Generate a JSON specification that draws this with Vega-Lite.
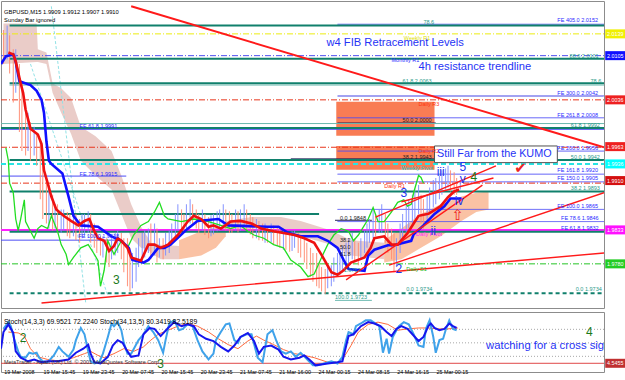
{
"$schema":"https://vega.github.io/schema/vega-lite/v6.json",
"padding":0,
"background":"#ffffff",
"spacing":2,
"config":{"view":{"stroke":"#8c8c8c"},"font":"Liberation Sans","axis":{"labelFont":"Liberation Sans","labelFontSize":5.4,"labelColor":"#000000","tickColor":"#000000","tickSize":3,"domainColor":"#8c8c8c","grid":false}},
"datasets":{
"zones":[{"t1":273,"t2":353,"p1":2.0033,"p2":1.9980},{"t1":273,"t2":353,"p1":1.9964,"p2":1.9927}],
"cloud":[
{"g":"L","k":"bear","t":2,"a":2.0155,"b":2.0092},{"g":"L","k":"bear","t":29,"a":2.0155,"b":2.0095},{"g":"L","k":"bear","t":30,"a":2.0115,"b":2.0095},{"g":"L","k":"bear","t":37,"a":2.0110,"b":2.0092},{"g":"L","k":"bear","t":42,"a":2.0062,"b":2.0047},{"g":"L","k":"bear","t":49,"a":2.0054,"b":2.0016},{"g":"L","k":"bear","t":57,"a":2.0039,"b":1.9983},{"g":"L","k":"bear","t":65,"a":1.9994,"b":1.9941},{"g":"L","k":"bear","t":77,"a":1.9979,"b":1.9918},{"g":"L","k":"bear","t":90,"a":1.9956,"b":1.9896},{"g":"L","k":"bear","t":98,"a":1.9918,"b":1.9858},{"g":"L","k":"bear","t":106,"a":1.9873,"b":1.9820},{"g":"L","k":"bear","t":114,"a":1.9838,"b":1.9805},{"g":"L","k":"bear","t":120,"a":1.9820,"b":1.9802},{"g":"L","k":"bear","t":122,"a":1.9813,"b":1.9797},{"g":"L","k":"bear","t":130,"a":1.9810,"b":1.9787},{"g":"L","k":"bear","t":145,"a":1.9808,"b":1.9787},
{"g":"M2","k":"bull","t":145,"a":1.9817,"b":1.9787},{"g":"M2","k":"bull","t":163,"a":1.9831,"b":1.9793},{"g":"M2","k":"bull","t":175,"a":1.9838,"b":1.9805},{"g":"M2","k":"bull","t":183,"a":1.9838,"b":1.9823},
{"g":"M3","k":"bear","t":183,"a":1.9847,"b":1.9828},{"g":"M3","k":"bear","t":204,"a":1.9853,"b":1.9835},{"g":"M3","k":"bear","t":228,"a":1.9853,"b":1.9835},{"g":"M3","k":"bear","t":244,"a":1.9847,"b":1.9823},{"g":"M3","k":"bear","t":269,"a":1.9832,"b":1.9810},{"g":"M3","k":"bear","t":285,"a":1.9817,"b":1.9793},{"g":"M3","k":"bear","t":312,"a":1.9813,"b":1.9787},
{"g":"R","k":"bull","t":312,"a":1.9817,"b":1.9782},{"g":"R","k":"bull","t":326,"a":1.9835,"b":1.9787},{"g":"R","k":"bull","t":342,"a":1.9858,"b":1.9805},{"g":"R","k":"bull","t":358,"a":1.9873,"b":1.9823},{"g":"R","k":"bull","t":375,"a":1.9885,"b":1.9847},{"g":"R","k":"bull","t":387,"a":1.9891,"b":1.9861},{"g":"R","k":"bull","t":397,"a":1.9893,"b":1.9865}],
"diag":[{"t1":41,"p1":2.0182,"t2":69,"p2":1.9719},{"t1":24,"p1":2.0092,"t2":87,"p2":1.9730}],
"hl":[
{"p":2.0152,"t1":7,"t2":491,"k":"fib"},{"p":2.0154,"t1":274,"t2":491,"k":"fe"},{"p":2.0139,"t1":0,"t2":491,"k":"wR"},{"p":2.0105,"t1":0,"t2":491,"k":"mR"},{"p":2.0100,"t1":7,"t2":491,"k":"fib"},{"p":2.0062,"t1":7,"t2":491,"k":"fib"},{"p":2.0059,"t1":7,"t2":491,"k":"fibl"},{"p":2.0042,"t1":274,"t2":491,"k":"feL"},{"p":2.0036,"t1":0,"t2":491,"k":"R"},{"p":2.0008,"t1":274,"t2":491,"k":"fe"},{"p":2.0000,"t1":274,"t2":354,"k":"nav"},{"p":1.9999,"t1":0,"t2":491,"k":"fibl"},{"p":1.9992,"t1":0,"t2":491,"k":"fib"},{"p":1.9990,"t1":0,"t2":491,"k":"fe"},{"p":1.9962,"t1":0,"t2":491,"k":"R"},{"p":1.9956,"t1":274,"t2":491,"k":"fe"},{"p":1.9944,"t1":236,"t2":354,"k":"nav"},{"p":1.9942,"t1":7,"t2":491,"k":"fib"},{"p":1.9936,"t1":0,"t2":491,"k":"wP"},{"p":1.9920,"t1":274,"t2":491,"k":"fe"},{"p":1.9917,"t1":0,"t2":102,"k":"fe"},{"p":1.9908,"t1":274,"t2":491,"k":"fe"},{"p":1.9906,"t1":0,"t2":491,"k":"R"},{"p":1.9893,"t1":7,"t2":491,"k":"fib"},{"p":1.9865,"t1":274,"t2":491,"k":"fe"},{"p":1.9858,"t1":35,"t2":259,"k":"fib"},{"p":1.9848,"t1":272,"t2":302,"k":"nav"},{"p":1.9846,"t1":274,"t2":491,"k":"fe"},{"p":1.9833,"t1":0,"t2":491,"k":"dP"},{"p":1.9832,"t1":274,"t2":491,"k":"fe"},{"p":1.9830,"t1":7,"t2":491,"k":"fib"},{"p":1.9817,"t1":0,"t2":98,"k":"fe"},{"p":1.9780,"t1":0,"t2":491,"k":"S1"},{"p":1.9734,"t1":7,"t2":491,"k":"fibd"},{"p":1.9723,"t1":272,"t2":302,"k":"fibl"}],
"bars":[
{"t":2,"hi":2.0145,"lo":2.0092,"c":"d"},{"t":5,"hi":2.0152,"lo":2.0099,"c":"u"},{"t":7,"hi":2.0137,"lo":2.0077,"c":"d"},{"t":10,"hi":2.0115,"lo":2.0032,"c":"d"},{"t":12,"hi":2.0115,"lo":2.0047,"c":"u"},{"t":15,"hi":2.0092,"lo":1.9986,"c":"d"},{"t":17,"hi":2.0062,"lo":1.9956,"c":"d"},{"t":20,"hi":2.0032,"lo":1.9949,"c":"d"},{"t":22,"hi":2.0016,"lo":1.9956,"c":"u"},{"t":24,"hi":2.0001,"lo":1.9941,"c":"d"},{"t":27,"hi":1.9994,"lo":1.9949,"c":"u"},{"t":29,"hi":1.9986,"lo":1.9933,"c":"d"},{"t":32,"hi":1.9971,"lo":1.9881,"c":"d"},{"t":34,"hi":1.9941,"lo":1.9850,"c":"d"},{"t":37,"hi":1.9911,"lo":1.9843,"c":"d"},{"t":39,"hi":1.9903,"lo":1.9835,"c":"u"},{"t":42,"hi":1.9888,"lo":1.9832,"c":"d"},{"t":44,"hi":1.9873,"lo":1.9835,"c":"u"},{"t":46,"hi":1.9873,"lo":1.9828,"c":"d"},{"t":49,"hi":1.9865,"lo":1.9828,"c":"u"},{"t":51,"hi":1.9865,"lo":1.9832,"c":"u"},{"t":54,"hi":1.9861,"lo":1.9823,"c":"d"},{"t":56,"hi":1.9858,"lo":1.9820,"c":"d"},{"t":59,"hi":1.9865,"lo":1.9823,"c":"u"},{"t":61,"hi":1.9858,"lo":1.9817,"c":"d"},{"t":64,"hi":1.9850,"lo":1.9813,"c":"d"},{"t":66,"hi":1.9858,"lo":1.9820,"c":"u"},{"t":68,"hi":1.9858,"lo":1.9823,"c":"u"},{"t":71,"hi":1.9862,"lo":1.9828,"c":"u"},{"t":73,"hi":1.9858,"lo":1.9813,"c":"d"},{"t":76,"hi":1.9843,"lo":1.9805,"c":"d"},{"t":78,"hi":1.9828,"lo":1.9797,"c":"d"},{"t":81,"hi":1.9823,"lo":1.9793,"c":"d"},{"t":83,"hi":1.9823,"lo":1.9790,"c":"u"},{"t":86,"hi":1.9820,"lo":1.9782,"c":"d"},{"t":88,"hi":1.9813,"lo":1.9775,"c":"d"},{"t":90,"hi":1.9820,"lo":1.9787,"c":"u"},{"t":93,"hi":1.9828,"lo":1.9793,"c":"u"},{"t":95,"hi":1.9832,"lo":1.9797,"c":"u"},{"t":98,"hi":1.9828,"lo":1.9787,"c":"d"},{"t":100,"hi":1.9820,"lo":1.9767,"c":"d"},{"t":103,"hi":1.9820,"lo":1.9745,"c":"d"},{"t":105,"hi":1.9805,"lo":1.9737,"c":"d"},{"t":107,"hi":1.9797,"lo":1.9742,"c":"u"},{"t":110,"hi":1.9805,"lo":1.9752,"c":"u"},{"t":112,"hi":1.9820,"lo":1.9775,"c":"u"},{"t":115,"hi":1.9828,"lo":1.9782,"c":"u"},{"t":117,"hi":1.9832,"lo":1.9790,"c":"u"},{"t":120,"hi":1.9835,"lo":1.9797,"c":"u"},{"t":122,"hi":1.9843,"lo":1.9787,"c":"d"},{"t":125,"hi":1.9843,"lo":1.9793,"c":"u"},{"t":127,"hi":1.9835,"lo":1.9782,"c":"d"},{"t":129,"hi":1.9820,"lo":1.9790,"c":"u"},{"t":132,"hi":1.9820,"lo":1.9787,"c":"d"},{"t":134,"hi":1.9828,"lo":1.9793,"c":"u"},{"t":137,"hi":1.9832,"lo":1.9797,"c":"u"},{"t":139,"hi":1.9843,"lo":1.9813,"c":"u"},{"t":142,"hi":1.9858,"lo":1.9820,"c":"u"},{"t":144,"hi":1.9873,"lo":1.9832,"c":"u"},{"t":147,"hi":1.9865,"lo":1.9835,"c":"d"},{"t":149,"hi":1.9858,"lo":1.9828,"c":"d"},{"t":151,"hi":1.9873,"lo":1.9835,"c":"u"},{"t":154,"hi":1.9881,"lo":1.9843,"c":"u"},{"t":156,"hi":1.9873,"lo":1.9843,"c":"d"},{"t":159,"hi":1.9865,"lo":1.9835,"c":"d"},{"t":161,"hi":1.9858,"lo":1.9828,"c":"d"},{"t":164,"hi":1.9865,"lo":1.9832,"c":"u"},{"t":166,"hi":1.9858,"lo":1.9825,"c":"d"},{"t":169,"hi":1.9853,"lo":1.9820,"c":"d"},{"t":171,"hi":1.9856,"lo":1.9823,"c":"u"},{"t":173,"hi":1.9858,"lo":1.9826,"c":"u"},{"t":176,"hi":1.9862,"lo":1.9831,"c":"u"},{"t":178,"hi":1.9865,"lo":1.9832,"c":"u"},{"t":181,"hi":1.9873,"lo":1.9835,"c":"u"},{"t":183,"hi":1.9865,"lo":1.9832,"c":"d"},{"t":186,"hi":1.9862,"lo":1.9828,"c":"d"},{"t":188,"hi":1.9858,"lo":1.9828,"c":"d"},{"t":191,"hi":1.9865,"lo":1.9832,"c":"u"},{"t":193,"hi":1.9862,"lo":1.9829,"c":"d"},{"t":195,"hi":1.9865,"lo":1.9832,"c":"u"},{"t":198,"hi":1.9873,"lo":1.9838,"c":"u"},{"t":200,"hi":1.9865,"lo":1.9832,"c":"d"},{"t":203,"hi":1.9858,"lo":1.9826,"c":"d"},{"t":205,"hi":1.9853,"lo":1.9820,"c":"d"},{"t":208,"hi":1.9850,"lo":1.9820,"c":"u"},{"t":210,"hi":1.9847,"lo":1.9817,"c":"d"},{"t":213,"hi":1.9843,"lo":1.9816,"c":"d"},{"t":215,"hi":1.9843,"lo":1.9813,"c":"u"},{"t":217,"hi":1.9838,"lo":1.9813,"c":"d"},{"t":220,"hi":1.9843,"lo":1.9814,"c":"u"},{"t":222,"hi":1.9840,"lo":1.9811,"c":"d"},{"t":225,"hi":1.9838,"lo":1.9808,"c":"d"},{"t":227,"hi":1.9835,"lo":1.9805,"c":"d"},{"t":230,"hi":1.9835,"lo":1.9802,"c":"u"},{"t":232,"hi":1.9832,"lo":1.9802,"c":"d"},{"t":235,"hi":1.9828,"lo":1.9799,"c":"d"},{"t":237,"hi":1.9831,"lo":1.9800,"c":"u"},{"t":239,"hi":1.9832,"lo":1.9805,"c":"u"},{"t":242,"hi":1.9828,"lo":1.9797,"c":"d"},{"t":244,"hi":1.9823,"lo":1.9790,"c":"d"},{"t":247,"hi":1.9820,"lo":1.9782,"c":"d"},{"t":249,"hi":1.9813,"lo":1.9772,"c":"d"},{"t":252,"hi":1.9805,"lo":1.9760,"c":"d"},{"t":254,"hi":1.9797,"lo":1.9752,"c":"d"},{"t":257,"hi":1.9797,"lo":1.9745,"c":"d"},{"t":259,"hi":1.9782,"lo":1.9742,"c":"d"},{"t":261,"hi":1.9775,"lo":1.9737,"c":"d"},{"t":264,"hi":1.9772,"lo":1.9733,"c":"d"},{"t":266,"hi":1.9775,"lo":1.9742,"c":"u"},{"t":269,"hi":1.9778,"lo":1.9745,"c":"u"},{"t":271,"hi":1.9790,"lo":1.9752,"c":"u"},{"t":274,"hi":1.9797,"lo":1.9760,"c":"u"},{"t":276,"hi":1.9805,"lo":1.9763,"c":"u"},{"t":278,"hi":1.9808,"lo":1.9767,"c":"u"},{"t":281,"hi":1.9813,"lo":1.9772,"c":"u"},{"t":283,"hi":1.9820,"lo":1.9778,"c":"u"},{"t":286,"hi":1.9828,"lo":1.9787,"c":"u"},{"t":288,"hi":1.9820,"lo":1.9782,"c":"d"},{"t":291,"hi":1.9813,"lo":1.9778,"c":"d"},{"t":293,"hi":1.9820,"lo":1.9787,"c":"u"},{"t":296,"hi":1.9832,"lo":1.9797,"c":"u"},{"t":298,"hi":1.9843,"lo":1.9805,"c":"u"},{"t":300,"hi":1.9850,"lo":1.9813,"c":"u"},{"t":303,"hi":1.9865,"lo":1.9820,"c":"u"},{"t":305,"hi":1.9858,"lo":1.9823,"c":"d"},{"t":308,"hi":1.9865,"lo":1.9828,"c":"u"},{"t":310,"hi":1.9873,"lo":1.9828,"c":"u"},{"t":313,"hi":1.9858,"lo":1.9813,"c":"d"},{"t":315,"hi":1.9843,"lo":1.9797,"c":"d"},{"t":318,"hi":1.9835,"lo":1.9787,"c":"d"},{"t":320,"hi":1.9828,"lo":1.9767,"c":"d"},{"t":322,"hi":1.9820,"lo":1.9775,"c":"u"},{"t":325,"hi":1.9843,"lo":1.9797,"c":"u"},{"t":327,"hi":1.9858,"lo":1.9813,"c":"u"},{"t":330,"hi":1.9873,"lo":1.9828,"c":"u"},{"t":332,"hi":1.9881,"lo":1.9835,"c":"u"},{"t":335,"hi":1.9888,"lo":1.9843,"c":"u"},{"t":337,"hi":1.9896,"lo":1.9850,"c":"u"},{"t":340,"hi":1.9903,"lo":1.9858,"c":"u"},{"t":342,"hi":1.9888,"lo":1.9843,"c":"d"},{"t":344,"hi":1.9881,"lo":1.9835,"c":"d"},{"t":347,"hi":1.9888,"lo":1.9847,"c":"u"},{"t":349,"hi":1.9899,"lo":1.9858,"c":"u"},{"t":352,"hi":1.9911,"lo":1.9868,"c":"u"},{"t":354,"hi":1.9914,"lo":1.9873,"c":"u"},{"t":357,"hi":1.9918,"lo":1.9881,"c":"u"},{"t":359,"hi":1.9926,"lo":1.9888,"c":"u"},{"t":362,"hi":1.9929,"lo":1.9896,"c":"u"},{"t":364,"hi":1.9933,"lo":1.9899,"c":"u"},{"t":366,"hi":1.9926,"lo":1.9893,"c":"d"},{"t":369,"hi":1.9923,"lo":1.9888,"c":"d"},{"t":371,"hi":1.9914,"lo":1.9888,"c":"d"},{"t":374,"hi":1.9911,"lo":1.9896,"c":"u"}],
"ind":[
{"s":"c","t":4,"p":1.9961},{"s":"c","t":6,"p":1.9941},{"s":"c","t":7,"p":1.9906},{"s":"c","t":10,"p":1.9891},{"s":"c","t":12,"p":1.9850},{"s":"c","t":14,"p":1.9832},{"s":"c","t":16,"p":1.9850},{"s":"c","t":19,"p":1.9880},{"s":"c","t":20,"p":1.9846},{"s":"c","t":24,"p":1.9831},{"s":"c","t":27,"p":1.9820},{"s":"c","t":30,"p":1.9835},{"s":"c","t":33,"p":1.9840},{"s":"c","t":38,"p":1.9835},{"s":"c","t":41,"p":1.9855},{"s":"c","t":46,"p":1.9831},{"s":"c","t":49,"p":1.9810},{"s":"c","t":53,"p":1.9795},{"s":"c","t":55,"p":1.9779},{"s":"c","t":59,"p":1.9790},{"s":"c","t":65,"p":1.9805},{"s":"c","t":71,"p":1.9810},{"s":"c","t":76,"p":1.9795},{"s":"c","t":79,"p":1.9785},{"s":"c","t":81,"p":1.9745},{"s":"c","t":84,"p":1.9770},{"s":"c","t":87,"p":1.9816},{"s":"c","t":92,"p":1.9795},{"s":"c","t":98,"p":1.9816},{"s":"c","t":103,"p":1.9805},{"s":"c","t":108,"p":1.9825},{"s":"c","t":114,"p":1.9840},{"s":"c","t":120,"p":1.9846},{"s":"c","t":125,"p":1.9861},{"s":"c","t":129,"p":1.9876},{"s":"c","t":133,"p":1.9855},{"s":"c","t":136,"p":1.9850},{"s":"c","t":147,"p":1.9846},{"s":"c","t":157,"p":1.9850},{"s":"c","t":169,"p":1.9846},{"s":"c","t":179,"p":1.9840},{"s":"c","t":187,"p":1.9835},{"s":"c","t":195,"p":1.9840},{"s":"c","t":201,"p":1.9831},{"s":"c","t":206,"p":1.9825},{"s":"c","t":214,"p":1.9820},{"s":"c","t":222,"p":1.9810},{"s":"c","t":230,"p":1.9805},{"s":"c","t":236,"p":1.9786},{"s":"c","t":244,"p":1.9775},{"s":"c","t":250,"p":1.9760},{"s":"c","t":255,"p":1.9764},{"s":"c","t":261,"p":1.9790},{"s":"c","t":266,"p":1.9810},{"s":"c","t":271,"p":1.9825},{"s":"c","t":277,"p":1.9835},{"s":"c","t":283,"p":1.9831},{"s":"c","t":287,"p":1.9816},{"s":"c","t":291,"p":1.9825},{"s":"c","t":293,"p":1.9831},{"s":"c","t":299,"p":1.9850},{"s":"c","t":303,"p":1.9868},{"s":"c","t":307,"p":1.9846},{"s":"c","t":312,"p":1.9846},{"s":"c","t":318,"p":1.9861},{"s":"c","t":323,"p":1.9876},{"s":"c","t":328,"p":1.9880},{"s":"c","t":331,"p":1.9870},{"s":"c","t":334,"p":1.9873},{"s":"c","t":336,"p":1.9891},{"s":"c","t":340,"p":1.9918},{"s":"c","t":342,"p":1.9915},{"s":"c","t":344,"p":1.9906},
{"s":"k","t":0,"p":2.0092},{"s":"k","t":4,"p":2.0104},{"s":"k","t":10,"p":2.0107},{"s":"k","t":12,"p":2.0095},{"s":"k","t":15,"p":2.0065},{"s":"k","t":24,"p":2.0059},{"s":"k","t":29,"p":2.0050},{"s":"k","t":33,"p":2.0036},{"s":"k","t":35,"p":2.0016},{"s":"k","t":37,"p":1.9971},{"s":"k","t":39,"p":1.9941},{"s":"k","t":41,"p":1.9936},{"s":"k","t":50,"p":1.9921},{"s":"k","t":55,"p":1.9885},{"s":"k","t":59,"p":1.9855},{"s":"k","t":65,"p":1.9840},{"s":"k","t":79,"p":1.9838},{"s":"k","t":90,"p":1.9823},{"s":"k","t":98,"p":1.9816},{"s":"k","t":104,"p":1.9805},{"s":"k","t":107,"p":1.9786},{"s":"k","t":116,"p":1.9782},{"s":"k","t":120,"p":1.9786},{"s":"k","t":128,"p":1.9805},{"s":"k","t":133,"p":1.9805},{"s":"k","t":138,"p":1.9810},{"s":"k","t":152,"p":1.9835},{"s":"k","t":160,"p":1.9847},{"s":"k","t":177,"p":1.9850},{"s":"k","t":185,"p":1.9840},{"s":"k","t":217,"p":1.9838},{"s":"k","t":226,"p":1.9838},{"s":"k","t":234,"p":1.9828},{"s":"k","t":244,"p":1.9823},{"s":"k","t":258,"p":1.9823},{"s":"k","t":266,"p":1.9816},{"s":"k","t":274,"p":1.9805},{"s":"k","t":279,"p":1.9786},{"s":"k","t":283,"p":1.9772},{"s":"k","t":296,"p":1.9769},{"s":"k","t":299,"p":1.9793},{"s":"k","t":304,"p":1.9802},{"s":"k","t":315,"p":1.9809},{"s":"k","t":320,"p":1.9809},{"s":"k","t":334,"p":1.9816},{"s":"k","t":336,"p":1.9826},{"s":"k","t":344,"p":1.9840},{"s":"k","t":353,"p":1.9858},{"s":"k","t":361,"p":1.9870},{"s":"k","t":366,"p":1.9882},{"s":"k","t":375,"p":1.9882},
{"s":"n","t":6,"p":2.0110},{"s":"n","t":10,"p":2.0107},{"s":"n","t":12,"p":2.0096},{"s":"n","t":16,"p":2.0062},{"s":"n","t":18,"p":2.0047},{"s":"n","t":20,"p":2.0021},{"s":"n","t":24,"p":1.9991},{"s":"n","t":30,"p":1.9982},{"s":"n","t":33,"p":1.9967},{"s":"n","t":34,"p":1.9946},{"s":"n","t":35,"p":1.9926},{"s":"n","t":38,"p":1.9906},{"s":"n","t":41,"p":1.9885},{"s":"n","t":45,"p":1.9865},{"s":"n","t":51,"p":1.9855},{"s":"n","t":57,"p":1.9847},{"s":"n","t":63,"p":1.9840},{"s":"n","t":68,"p":1.9847},{"s":"n","t":72,"p":1.9850},{"s":"n","t":75,"p":1.9835},{"s":"n","t":79,"p":1.9820},{"s":"n","t":84,"p":1.9816},{"s":"n","t":88,"p":1.9800},{"s":"n","t":92,"p":1.9808},{"s":"n","t":95,"p":1.9820},{"s":"n","t":98,"p":1.9816},{"s":"n","t":103,"p":1.9805},{"s":"n","t":106,"p":1.9790},{"s":"n","t":114,"p":1.9785},{"s":"n","t":120,"p":1.9810},{"s":"n","t":125,"p":1.9810},{"s":"n","t":130,"p":1.9805},{"s":"n","t":136,"p":1.9810},{"s":"n","t":144,"p":1.9825},{"s":"n","t":152,"p":1.9846},{"s":"n","t":157,"p":1.9855},{"s":"n","t":163,"p":1.9850},{"s":"n","t":169,"p":1.9838},{"s":"n","t":173,"p":1.9840},{"s":"n","t":179,"p":1.9835},{"s":"n","t":187,"p":1.9846},{"s":"n","t":195,"p":1.9847},{"s":"n","t":204,"p":1.9843},{"s":"n","t":212,"p":1.9835},{"s":"n","t":222,"p":1.9831},{"s":"n","t":239,"p":1.9825},{"s":"n","t":247,"p":1.9820},{"s":"n","t":255,"p":1.9813},{"s":"n","t":261,"p":1.9794},{"s":"n","t":269,"p":1.9767},{"s":"n","t":274,"p":1.9763},{"s":"n","t":279,"p":1.9770},{"s":"n","t":285,"p":1.9782},{"s":"n","t":296,"p":1.9790},{"s":"n","t":301,"p":1.9805},{"s":"n","t":304,"p":1.9820},{"s":"n","t":312,"p":1.9823},{"s":"n","t":318,"p":1.9810},{"s":"n","t":323,"p":1.9810},{"s":"n","t":331,"p":1.9828},{"s":"n","t":336,"p":1.9843},{"s":"n","t":340,"p":1.9855},{"s":"n","t":348,"p":1.9858},{"s":"n","t":353,"p":1.9864},{"s":"n","t":358,"p":1.9870},{"s":"n","t":364,"p":1.9884},{"s":"n","t":369,"p":1.9893},{"s":"n","t":373,"p":1.9896}],
"trend":[{"t1":106,"p1":2.0182,"t2":491,"p2":1.9962,"w":"a"},{"t1":33,"p1":1.9719,"t2":491,"p2":1.9797,"w":"b"},{"t1":316,"p1":1.9778,"t2":491,"p2":1.9891,"w":"b"},{"t1":281,"p1":1.9755,"t2":392,"p2":1.9903,"w":"b"},{"t1":305,"p1":1.9853,"t2":403,"p2":1.9933,"w":"b"},{"t1":326,"p1":1.9877,"t2":401,"p2":1.9914,"w":"b"}],
"box":[{"t1":353,"t2":453,"p1":1.9964,"p2":1.9938}],
"lbl":[
{"t":453,"p":2.0160,"s":"FE 405.0  2.0152","k":"fe"},{"t":344,"p":2.0157,"s":"78.6","k":"fib"},{"t":328,"p":2.0133,"s":"Weekly R1","k":"yel"},{"t":463,"p":2.0104,"s":"88.6  2.0101","k":"fib"},{"t":318,"p":2.0098,"s":"Monthly R1","k":"fe"},{"t":327,"p":2.0066,"s":"61.8  2.0063","k":"fib"},{"t":480,"p":2.0066,"s":"78.6","k":"fib"},{"t":453,"p":2.0047,"s":"FE 300.0  2.0042","k":"fe"},{"t":340,"p":2.0030,"s":"Daily R3","k":"red"},{"t":453,"p":2.0013,"s":"FE 261.8  2.0008","k":"fe"},{"t":327,"p":2.0005,"s":"50.0  2.0000","k":"blk"},{"t":464,"p":1.9996,"s":"61.8  1.9992","k":"fib"},{"t":64,"p":1.9995,"s":"FE 61.8  1.9991","k":"fe"},{"t":340,"p":1.9956,"s":"Daily R2","k":"red"},{"t":453,"p":1.9961,"s":"FE 200.0  1.9956","k":"fe"},{"t":327,"p":1.9947,"s":"38.2  1.9943","k":"blk"},{"t":464,"p":1.9947,"s":"50.0  1.9942","k":"fib"},{"t":326,"p":1.9930,"s":"Weekly Pivot","k":"cyan"},{"t":453,"p":1.9926,"s":"FE 161.8  1.9920","k":"fe"},{"t":453,"p":1.9914,"s":"FE 150.0  1.9905","k":"fe"},{"t":312,"p":1.9901,"s":"Daily R1","k":"red"},{"t":464,"p":1.9898,"s":"38.2  1.9893","k":"fib"},{"t":64,"p":1.9921,"s":"FE 78.6  1.9915","k":"fe"},{"t":453,"p":1.9870,"s":"FE 100.0  1.9865","k":"fe"},{"t":276,"p":1.9851,"s":"0.0  1.9848","k":"blk"},{"t":456,"p":1.9851,"s":"FE 78.6  1.9846","k":"fe"},{"t":456,"p":1.9836,"s":"FE 61.8  1.9832","k":"fe"},{"t":338,"p":1.9826,"s":"Daily Pivot","k":"mag"},{"t":63,"p":1.9823,"s":"FE 100.0  1.9818","k":"fe"},{"t":276,"p":1.9817,"s":"38.2","k":"blk"},{"t":276,"p":1.9807,"s":"50.0","k":"blk"},{"t":276,"p":1.9795,"s":"61.8","k":"blk"},{"t":279,"p":1.9770,"s":"1.9767","k":"fib"},{"t":330,"p":1.9772,"s":"Daily S1","k":"grn"},{"t":330,"p":1.9740,"s":"0.0  1.9734","k":"fib"},{"t":468,"p":1.9740,"s":"0.0  1.9734","k":"fib"},{"t":272,"p":1.9728,"s":"100.0  1.9723","k":"fib"}],
"ann":[{"t":265,"p":2.0124,"s":"w4 FIB Retracement Levels"},{"t":340,"p":2.0087,"s":"4h resistance trendline"}],
"kumo":[{"t":355,"p":1.9951,"s":"Still Far from the KUMO"}],
"wave":[{"t":376,"p":1.9931,"s":"5","k":"b"},{"t":376,"p":1.9913,"s":"v","k":"b"},{"t":385,"p":1.9915,"s":"4","k":"g"},{"t":358,"p":1.9923,"s":"iii","k":"b"},{"t":373,"p":1.9878,"s":"iv","k":"b"},{"t":328,"p":1.9890,"s":"3","k":"b"},{"t":352,"p":1.9832,"s":"ii","k":"b"},{"t":324,"p":1.9772,"s":"2","k":"b"},{"t":94,"p":1.9755,"s":"3","k":"g"}],
"sym":[{"t":423,"p":1.9929,"s":"✔"},{"t":372,"p":1.9856,"s":"⇧"}],
"hdr":[{"t":2.5,"p":2.0173,"s":"GBPUSD,M15  1.9909 1.9912 1.9907 1.9910"},{"t":2.5,"p":2.0160,"s":"Sunday Bar ignored"}],
"tags":[{"p":2.0139,"s":"2.0139","k":"yel"},{"p":2.0105,"s":"2.0105","k":"blue"},{"p":2.0036,"s":"2.0036","k":"red"},{"p":1.9963,"s":"1.9963","k":"red"},{"p":1.9936,"s":"1.9936","k":"cyan"},{"p":1.9910,"s":"1.9910","k":"dred"},{"p":1.9833,"s":"1.9833","k":"mag"},{"p":1.9780,"s":"1.9780","k":"grn"}],
"levels":[{"v":80},{"v":50},{"v":20}],
"redline":[{"v":4.5455}],
"xlab":[{"t":1,"s":"19 Mar 2008"},{"t":33,"s":"19 Mar 15:45"},{"t":65,"s":"19 Mar 23:45"},{"t":97,"s":"20 Mar 07:45"},{"t":129,"s":"20 Mar 15:45"},{"t":161,"s":"20 Mar 23:45"},{"t":193,"s":"21 Mar 07:45"},{"t":225,"s":"21 Mar 16:00"},{"t":257,"s":"24 Mar 00:15"},{"t":289,"s":"24 Mar 08:15"},{"t":321,"s":"24 Mar 16:15"},{"t":353,"s":"25 Mar 00:15"}],
"stoch":[
{"s":"c","t":6,"v":74},{"s":"c","t":14,"v":72},{"s":"c","t":19,"v":65},{"s":"c","t":24,"v":37},{"s":"c","t":30,"v":19},{"s":"c","t":38,"v":13},{"s":"c","t":49,"v":9},{"s":"c","t":59,"v":17},{"s":"c","t":68,"v":26},{"s":"c","t":73,"v":31},{"s":"c","t":79,"v":22},{"s":"c","t":84,"v":17},{"s":"c","t":92,"v":26},{"s":"c","t":100,"v":37},{"s":"c","t":108,"v":31},{"s":"c","t":116,"v":41},{"s":"c","t":122,"v":56},{"s":"c","t":128,"v":69},{"s":"c","t":136,"v":78},{"s":"c","t":144,"v":87},{"s":"c","t":152,"v":93},{"s":"c","t":160,"v":87},{"s":"c","t":169,"v":74},{"s":"c","t":177,"v":59},{"s":"c","t":185,"v":46},{"s":"c","t":193,"v":37},{"s":"c","t":201,"v":54},{"s":"c","t":208,"v":65},{"s":"c","t":214,"v":56},{"s":"c","t":222,"v":46},{"s":"c","t":230,"v":35},{"s":"c","t":239,"v":26},{"s":"c","t":247,"v":22},{"s":"c","t":255,"v":17},{"s":"c","t":266,"v":7},{"s":"c","t":274,"v":7},{"s":"c","t":279,"v":17},{"s":"c","t":285,"v":44},{"s":"c","t":291,"v":74},{"s":"c","t":299,"v":91},{"s":"c","t":307,"v":96},{"s":"c","t":315,"v":91},{"s":"c","t":323,"v":78},{"s":"c","t":331,"v":81},{"s":"c","t":340,"v":83},{"s":"c","t":348,"v":83},{"s":"c","t":356,"v":81},{"s":"c","t":364,"v":81},{"s":"c","t":372,"v":83},
{"s":"a","t":2,"v":81},{"s":"a","t":6,"v":96},{"s":"a","t":8,"v":87},{"s":"a","t":11,"v":56},{"s":"a","t":14,"v":31},{"s":"a","t":16,"v":19},{"s":"a","t":20,"v":17},{"s":"a","t":23,"v":28},{"s":"a","t":26,"v":26},{"s":"a","t":29,"v":28},{"s":"a","t":31,"v":17},{"s":"a","t":34,"v":9},{"s":"a","t":38,"v":7},{"s":"a","t":43,"v":22},{"s":"a","t":47,"v":41},{"s":"a","t":50,"v":31},{"s":"a","t":55,"v":19},{"s":"a","t":59,"v":35},{"s":"a","t":61,"v":56},{"s":"a","t":65,"v":83},{"s":"a","t":68,"v":69},{"s":"a","t":71,"v":31},{"s":"a","t":73,"v":9},{"s":"a","t":76,"v":4},{"s":"a","t":80,"v":7},{"s":"a","t":83,"v":26},{"s":"a","t":87,"v":63},{"s":"a","t":90,"v":93},{"s":"a","t":92,"v":87},{"s":"a","t":95,"v":96},{"s":"a","t":98,"v":78},{"s":"a","t":100,"v":50},{"s":"a","t":103,"v":26},{"s":"a","t":106,"v":26},{"s":"a","t":112,"v":56},{"s":"a","t":116,"v":69},{"s":"a","t":120,"v":87},{"s":"a","t":124,"v":74},{"s":"a","t":128,"v":56},{"s":"a","t":132,"v":28},{"s":"a","t":134,"v":56},{"s":"a","t":137,"v":93},{"s":"a","t":141,"v":100},{"s":"a","t":145,"v":78},{"s":"a","t":148,"v":81},{"s":"a","t":152,"v":91},{"s":"a","t":156,"v":87},{"s":"a","t":160,"v":56},{"s":"a","t":164,"v":31},{"s":"a","t":169,"v":13},{"s":"a","t":173,"v":26},{"s":"a","t":175,"v":56},{"s":"a","t":179,"v":74},{"s":"a","t":183,"v":91},{"s":"a","t":186,"v":93},{"s":"a","t":190,"v":56},{"s":"a","t":193,"v":50},{"s":"a","t":195,"v":63},{"s":"a","t":200,"v":69},{"s":"a","t":204,"v":69},{"s":"a","t":209,"v":17},{"s":"a","t":213,"v":7},{"s":"a","t":217,"v":69},{"s":"a","t":221,"v":78},{"s":"a","t":224,"v":56},{"s":"a","t":228,"v":31},{"s":"a","t":232,"v":26},{"s":"a","t":236,"v":31},{"s":"a","t":240,"v":19},{"s":"a","t":244,"v":28},{"s":"a","t":248,"v":17},{"s":"a","t":254,"v":0},{"s":"a","t":258,"v":0},{"s":"a","t":263,"v":4},{"s":"a","t":269,"v":9},{"s":"a","t":274,"v":4},{"s":"a","t":278,"v":19},{"s":"a","t":281,"v":56},{"s":"a","t":283,"v":74},{"s":"a","t":287,"v":69},{"s":"a","t":289,"v":87},{"s":"a","t":293,"v":93},{"s":"a","t":297,"v":100},{"s":"a","t":301,"v":100},{"s":"a","t":305,"v":93},{"s":"a","t":308,"v":87},{"s":"a","t":311,"v":28},{"s":"a","t":314,"v":59},{"s":"a","t":316,"v":26},{"s":"a","t":319,"v":63},{"s":"a","t":322,"v":78},{"s":"a","t":324,"v":87},{"s":"a","t":328,"v":96},{"s":"a","t":332,"v":91},{"s":"a","t":336,"v":69},{"s":"a","t":340,"v":44},{"s":"a","t":344,"v":41},{"s":"a","t":346,"v":81},{"s":"a","t":349,"v":100},{"s":"a","t":352,"v":63},{"s":"a","t":354,"v":28},{"s":"a","t":357,"v":56},{"s":"a","t":360,"v":59},{"s":"a","t":362,"v":78},{"s":"a","t":365,"v":100},{"s":"a","t":368,"v":81},{"s":"a","t":371,"v":78},
{"s":"b","t":0,"v":37},{"s":"b","t":2,"v":74},{"s":"b","t":6,"v":91},{"s":"b","t":10,"v":72},{"s":"b","t":12,"v":31},{"s":"b","t":16,"v":17},{"s":"b","t":22,"v":9},{"s":"b","t":27,"v":13},{"s":"b","t":33,"v":7},{"s":"b","t":38,"v":9},{"s":"b","t":46,"v":9},{"s":"b","t":55,"v":13},{"s":"b","t":61,"v":28},{"s":"b","t":67,"v":37},{"s":"b","t":71,"v":46},{"s":"b","t":73,"v":26},{"s":"b","t":76,"v":7},{"s":"b","t":81,"v":4},{"s":"b","t":87,"v":19},{"s":"b","t":91,"v":44},{"s":"b","t":95,"v":56},{"s":"b","t":99,"v":50},{"s":"b","t":102,"v":35},{"s":"b","t":106,"v":19},{"s":"b","t":112,"v":22},{"s":"b","t":116,"v":69},{"s":"b","t":121,"v":83},{"s":"b","t":125,"v":81},{"s":"b","t":130,"v":65},{"s":"b","t":136,"v":83},{"s":"b","t":141,"v":96},{"s":"b","t":147,"v":87},{"s":"b","t":152,"v":91},{"s":"b","t":157,"v":87},{"s":"b","t":161,"v":69},{"s":"b","t":167,"v":59},{"s":"b","t":173,"v":54},{"s":"b","t":179,"v":41},{"s":"b","t":185,"v":31},{"s":"b","t":190,"v":44},{"s":"b","t":195,"v":63},{"s":"b","t":201,"v":72},{"s":"b","t":206,"v":54},{"s":"b","t":210,"v":26},{"s":"b","t":214,"v":41},{"s":"b","t":220,"v":44},{"s":"b","t":226,"v":35},{"s":"b","t":230,"v":19},{"s":"b","t":236,"v":13},{"s":"b","t":243,"v":17},{"s":"b","t":247,"v":22},{"s":"b","t":251,"v":13},{"s":"b","t":256,"v":0},{"s":"b","t":266,"v":4},{"s":"b","t":274,"v":7},{"s":"b","t":278,"v":9},{"s":"b","t":283,"v":65},{"s":"b","t":287,"v":69},{"s":"b","t":293,"v":87},{"s":"b","t":299,"v":96},{"s":"b","t":304,"v":93},{"s":"b","t":309,"v":87},{"s":"b","t":314,"v":74},{"s":"b","t":318,"v":65},{"s":"b","t":322,"v":81},{"s":"b","t":326,"v":87},{"s":"b","t":331,"v":81},{"s":"b","t":335,"v":69},{"s":"b","t":340,"v":54},{"s":"b","t":344,"v":63},{"s":"b","t":348,"v":87},{"s":"b","t":350,"v":93},{"s":"b","t":353,"v":83},{"s":"b","t":357,"v":78},{"s":"b","t":361,"v":81},{"s":"b","t":365,"v":93},{"s":"b","t":368,"v":87},{"s":"b","t":371,"v":83}],
"subhdr":[{"t":2.5,"v":96,"s":"Stoch(14,3,3) 69.9521 72.2240  Stoch(34,13,5) 80.3419 82.5189"}],
"subfoot":[{"t":2.5,"v":7,"s":"MetaTrader - Alpari (UK) Ltd. © 2001 MetaQuotes Software Corp."}],
"subnum":[{"t":18,"v":61,"s":"2"},{"t":130,"v":2,"s":"3"},{"t":479,"v":74,"s":"4"}],
"subann":[{"t":395,"v":44,"s":"watching for a cross sig"}],
"subtag":[{"v":4.5455,"s":"4.5455"}]
},
"vconcat":[
{
"width":603,"height":307,
"resolve":{"scale":{"color":"independent","strokeDash":"independent"}},
"layer":[
{"data":{"name":"zones"},"mark":{"type":"rect","color":"#f97c54"},
 "encoding":{"x":{"field":"t1","type":"quantitative","scale":{"domain":[0,491],"nice":false,"zero":false},"axis":null},"x2":{"field":"t2"},
 "y":{"field":"p1","type":"quantitative","scale":{"domain":[1.97189,2.01825],"nice":false,"zero":false},"axis":{"orient":"right","values":[2.0175,2.0145,2.0115,2.0085,2.0055,2.0025,1.9995,1.9965,1.9935,1.9905,1.9875,1.9845,1.9815,1.9785,1.9755,1.9725],"format":".4f","title":null,"labelPadding":2}},"y2":{"field":"p2"}}},
{"data":{"name":"cloud"},"mark":{"type":"area","opacity":0.6,"clip":true},
 "encoding":{"x":{"field":"t","type":"quantitative","scale":{"domain":[0,491],"nice":false,"zero":false},"axis":null},
 "y":{"field":"a","type":"quantitative","stack":null,"scale":{"domain":[1.97189,2.01825],"nice":false,"zero":false},"axis":null},"y2":{"field":"b"},
 "color":{"field":"k","type":"nominal","scale":{"domain":["bear","bull"],"range":["#dcaaa4","#f79a68"]},"legend":null},"detail":{"field":"g"}}},
{"data":{"name":"diag"},"mark":{"type":"rule","color":"#92e2e6","strokeDash":[3,2],"strokeWidth":1,"clip":true},
 "encoding":{"x":{"field":"t1","type":"quantitative","scale":{"domain":[0,491],"nice":false,"zero":false},"axis":null},"x2":{"field":"t2"},
 "y":{"field":"p1","type":"quantitative","scale":{"domain":[1.97189,2.01825],"nice":false,"zero":false},"axis":null},"y2":{"field":"p2"}}},
{"data":{"name":"hl"},"transform":[{"filter":"indexof(['fib','feL','wP','fibd','dP'], datum.k) < 0"}],"mark":{"type":"rule","strokeWidth":1,"clip":true},
 "encoding":{"x":{"field":"t1","type":"quantitative","scale":{"domain":[0,491],"nice":false,"zero":false},"axis":null},"x2":{"field":"t2"},
 "y":{"field":"p","type":"quantitative","scale":{"domain":[1.97189,2.01825],"nice":false,"zero":false},"axis":null},
 "color":{"field":"k","type":"nominal","scale":{"domain":["fibl","fe","nav","R","wR","mR","S1"],"range":["#68b8ae","#4d4df5","#202058","#e8361c","#ecec10","#5050f0","#26c426"]},"legend":null},
 "strokeDash":{"field":"k","type":"nominal","scale":{"domain":["fibl","fe","nav","R","wR","mR","S1"],"range":[[1,0],[1,0],[1,0],[6,2,1,2],[6,2,1,2],[6,2,1,2],[6,2,1,2]]},"legend":null}}},
{"data":{"name":"hl"},"transform":[{"filter":"indexof(['fib','feL','wP','fibd','dP'], datum.k) >= 0"}],"mark":{"type":"rule","strokeWidth":2,"clip":true},
 "encoding":{"x":{"field":"t1","type":"quantitative","scale":{"domain":[0,491],"nice":false,"zero":false},"axis":null},"x2":{"field":"t2"},
 "y":{"field":"p","type":"quantitative","scale":{"domain":[1.97189,2.01825],"nice":false,"zero":false},"axis":null},
 "color":{"field":"k","type":"nominal","scale":{"domain":["fib","feL","wP","fibd","dP"],"range":["#10806c","#a2a2f2","#28e4e4","#10806c","#ff20ff"]},"legend":null},
 "strokeDash":{"field":"k","type":"nominal","scale":{"domain":["fib","feL","wP","fibd","dP"],"range":[[1,0],[1,0],[5,3],[4,3],[1,0]]},"legend":null}}},
{"data":{"name":"bars"},"mark":{"type":"rule","strokeWidth":1.1,"opacity":0.85,"clip":true},
 "encoding":{"x":{"field":"t","type":"quantitative","scale":{"domain":[0,491],"nice":false,"zero":false},"axis":null},
 "y":{"field":"lo","type":"quantitative","scale":{"domain":[1.97189,2.01825],"nice":false,"zero":false},"axis":null},"y2":{"field":"hi"},
 "color":{"field":"c","type":"nominal","scale":{"domain":["u","d"],"range":["#7c8cff","#ff8a70"]},"legend":null}}},
{"data":{"name":"ind"},"transform":[{"filter":"datum.s == 'c'"}],"mark":{"type":"line","color":"#22dd22","strokeWidth":1.3,"clip":true},
 "encoding":{"x":{"field":"t","type":"quantitative","scale":{"domain":[0,491],"nice":false,"zero":false},"axis":null},
 "y":{"field":"p","type":"quantitative","scale":{"domain":[1.97189,2.01825],"nice":false,"zero":false},"axis":null}}},
{"data":{"name":"ind"},"transform":[{"filter":"datum.s == 'k'"}],"mark":{"type":"line","color":"#1010ff","strokeWidth":2.6,"clip":true},
 "encoding":{"x":{"field":"t","type":"quantitative","scale":{"domain":[0,491],"nice":false,"zero":false},"axis":null},
 "y":{"field":"p","type":"quantitative","scale":{"domain":[1.97189,2.01825],"nice":false,"zero":false},"axis":null}}},
{"data":{"name":"ind"},"transform":[{"filter":"datum.s == 'n'"}],"mark":{"type":"line","color":"#ee1111","strokeWidth":2.6,"clip":true},
 "encoding":{"x":{"field":"t","type":"quantitative","scale":{"domain":[0,491],"nice":false,"zero":false},"axis":null},
 "y":{"field":"p","type":"quantitative","scale":{"domain":[1.97189,2.01825],"nice":false,"zero":false},"axis":null}}},
{"data":{"name":"trend"},"transform":[{"filter":"datum.w == 'a'"}],"mark":{"type":"rule","color":"#ff1a1a","strokeWidth":2,"clip":true},
 "encoding":{"x":{"field":"t1","type":"quantitative","scale":{"domain":[0,491],"nice":false,"zero":false},"axis":null},"x2":{"field":"t2"},
 "y":{"field":"p1","type":"quantitative","scale":{"domain":[1.97189,2.01825],"nice":false,"zero":false},"axis":null},"y2":{"field":"p2"}}},
{"data":{"name":"trend"},"transform":[{"filter":"datum.w == 'b'"}],"mark":{"type":"rule","color":"#ff1a1a","strokeWidth":1.4,"clip":true},
 "encoding":{"x":{"field":"t1","type":"quantitative","scale":{"domain":[0,491],"nice":false,"zero":false},"axis":null},"x2":{"field":"t2"},
 "y":{"field":"p1","type":"quantitative","scale":{"domain":[1.97189,2.01825],"nice":false,"zero":false},"axis":null},"y2":{"field":"p2"}}},
{"data":{"name":"box"},"mark":{"type":"rect","fill":"#ffffff","stroke":"#505050","strokeWidth":1},
 "encoding":{"x":{"field":"t1","type":"quantitative","scale":{"domain":[0,491],"nice":false,"zero":false},"axis":null},"x2":{"field":"t2"},
 "y":{"field":"p1","type":"quantitative","scale":{"domain":[1.97189,2.01825],"nice":false,"zero":false},"axis":null},"y2":{"field":"p2"}}},
{"data":{"name":"lbl"},"mark":{"type":"text","align":"left","baseline":"middle","font":"Liberation Sans","fontSize":5.5},
 "encoding":{"x":{"field":"t","type":"quantitative","scale":{"domain":[0,491],"nice":false,"zero":false},"axis":null},
 "y":{"field":"p","type":"quantitative","scale":{"domain":[1.97189,2.01825],"nice":false,"zero":false},"axis":null},
 "text":{"field":"s"},
 "color":{"field":"k","type":"nominal","scale":{"domain":["fe","fib","blk","red","yel","mag","grn","cyan"],"range":["#2a2aff","#2a9a8a","#222222","#ff3311","#e0e000","#ff22ff","#22bb22","#22cccc"]},"legend":null}}},
{"data":{"name":"ann"},"mark":{"type":"text","align":"left","baseline":"middle","font":"Liberation Sans","fontSize":11.2,"color":"#2633f5"},
 "encoding":{"x":{"field":"t","type":"quantitative","scale":{"domain":[0,491],"nice":false,"zero":false},"axis":null},
 "y":{"field":"p","type":"quantitative","scale":{"domain":[1.97189,2.01825],"nice":false,"zero":false},"axis":null},
 "text":{"field":"s"}}},
{"data":{"name":"kumo"},"mark":{"type":"text","align":"left","baseline":"middle","font":"Liberation Sans","fontSize":10.8,"color":"#2633f5"},
 "encoding":{"x":{"field":"t","type":"quantitative","scale":{"domain":[0,491],"nice":false,"zero":false},"axis":null},
 "y":{"field":"p","type":"quantitative","scale":{"domain":[1.97189,2.01825],"nice":false,"zero":false},"axis":null},
 "text":{"field":"s"}}},
{"data":{"name":"wave"},"mark":{"type":"text","align":"center","baseline":"middle","font":"Liberation Sans","fontSize":12},
 "encoding":{"x":{"field":"t","type":"quantitative","scale":{"domain":[0,491],"nice":false,"zero":false},"axis":null},
 "y":{"field":"p","type":"quantitative","scale":{"domain":[1.97189,2.01825],"nice":false,"zero":false},"axis":null},
 "text":{"field":"s"},
 "color":{"field":"k","type":"nominal","scale":{"domain":["b","g"],"range":["#2233ee","#1a7a1a"]},"legend":null}}},
{"data":{"name":"sym"},"mark":{"type":"text","align":"center","baseline":"middle","font":"DejaVu Sans","fontSize":15,"color":"#ee2222"},
 "encoding":{"x":{"field":"t","type":"quantitative","scale":{"domain":[0,491],"nice":false,"zero":false},"axis":null},
 "y":{"field":"p","type":"quantitative","scale":{"domain":[1.97189,2.01825],"nice":false,"zero":false},"axis":null},
 "text":{"field":"s"}}},
{"data":{"name":"hdr"},"mark":{"type":"text","align":"left","baseline":"middle","font":"Liberation Sans","fontSize":5.8,"color":"#000000"},
 "encoding":{"x":{"field":"t","type":"quantitative","scale":{"domain":[0,491],"nice":false,"zero":false},"axis":null},
 "y":{"field":"p","type":"quantitative","scale":{"domain":[1.97189,2.01825],"nice":false,"zero":false},"axis":null},
 "text":{"field":"s"}}},
{"data":{"name":"tags"},"mark":{"type":"bar","orient":"horizontal","size":9},
 "encoding":{"x":{"datum":492,"type":"quantitative","scale":{"domain":[0,491],"nice":false,"zero":false},"axis":null},"x2":{"datum":509},
 "y":{"field":"p","type":"quantitative","scale":{"domain":[1.97189,2.01825],"nice":false,"zero":false},"axis":null},
 "color":{"field":"k","type":"nominal","scale":{"domain":["yel","blue","red","cyan","dred","mag","grn"],"range":["#f0f000","#1010ff","#ee2020","#00ffff","#d41010","#ff10ff","#22cc22"]},"legend":null}}},
{"data":{"name":"tags"},"mark":{"type":"text","align":"left","baseline":"middle","font":"Liberation Sans","fontSize":5.4,"color":"#ffffff"},
 "encoding":{"x":{"datum":493.5,"type":"quantitative","scale":{"domain":[0,491],"nice":false,"zero":false},"axis":null},
 "y":{"field":"p","type":"quantitative","scale":{"domain":[1.97189,2.01825],"nice":false,"zero":false},"axis":null},
 "text":{"field":"s"}}}
]
},
{
"width":603,"height":60,
"layer":[
{"data":{"name":"levels"},"mark":{"type":"rule","color":"#a8a8a8","strokeDash":[1,2],"clip":true},
 "encoding":{"y":{"field":"v","type":"quantitative","scale":{"domain":[-3.7,107.4],"nice":false,"zero":false},"axis":null}}},
{"data":{"name":"redline"},"mark":{"type":"rule","color":"#e04848","strokeWidth":1,"clip":true},
 "encoding":{"y":{"field":"v","type":"quantitative","scale":{"domain":[-3.7,107.4],"nice":false,"zero":false},"axis":null}}},
{"data":{"name":"stoch"},"transform":[{"filter":"datum.s == 'c'"}],"mark":{"type":"line","color":"#ff6a3d","strokeWidth":1,"clip":true},
 "encoding":{"x":{"field":"t","type":"quantitative","scale":{"domain":[0,491],"nice":false,"zero":false},
  "axis":{"orient":"bottom","values":[1,33,65,97,129,161,193,225,257,289,321,353],"labels":false,"domain":false,"title":null,"tickSize":3}},
 "y":{"field":"v","type":"quantitative","scale":{"domain":[-3.7,107.4],"nice":false,"zero":false},"axis":{"orient":"right","values":[100,80,50,20],"format":"d","title":null,"labelPadding":2}}}},
{"data":{"name":"stoch"},"transform":[{"filter":"datum.s == 'a'"}],"mark":{"type":"line","color":"#3fa2ea","strokeWidth":2,"clip":true},
 "encoding":{"x":{"field":"t","type":"quantitative","scale":{"domain":[0,491],"nice":false,"zero":false},"axis":null},
 "y":{"field":"v","type":"quantitative","scale":{"domain":[-3.7,107.4],"nice":false,"zero":false},"axis":null}}},
{"data":{"name":"stoch"},"transform":[{"filter":"datum.s == 'b'"}],"mark":{"type":"line","color":"#1616ee","strokeWidth":2,"clip":true},
 "encoding":{"x":{"field":"t","type":"quantitative","scale":{"domain":[0,491],"nice":false,"zero":false},"axis":null},
 "y":{"field":"v","type":"quantitative","scale":{"domain":[-3.7,107.4],"nice":false,"zero":false},"axis":null}}},
{"data":{"name":"xlab"},"mark":{"type":"text","align":"left","baseline":"top","dx":2,"font":"Liberation Sans","fontSize":5.4,"color":"#000000"},
 "encoding":{"x":{"field":"t","type":"quantitative","scale":{"domain":[0,491],"nice":false,"zero":false},"axis":null},
 "y":{"datum":-9.3,"type":"quantitative","scale":{"domain":[-3.7,107.4],"nice":false,"zero":false},"axis":null},
 "text":{"field":"s"}}},
{"data":{"name":"subhdr"},"mark":{"type":"text","align":"left","baseline":"middle","font":"Liberation Sans","fontSize":6.8,"color":"#000000"},
 "encoding":{"x":{"field":"t","type":"quantitative","scale":{"domain":[0,491],"nice":false,"zero":false},"axis":null},
 "y":{"field":"v","type":"quantitative","scale":{"domain":[-3.7,107.4],"nice":false,"zero":false},"axis":null},
 "text":{"field":"s"}}},
{"data":{"name":"subfoot"},"mark":{"type":"text","align":"left","baseline":"middle","font":"Liberation Sans","fontSize":5.4,"color":"#333333"},
 "encoding":{"x":{"field":"t","type":"quantitative","scale":{"domain":[0,491],"nice":false,"zero":false},"axis":null},
 "y":{"field":"v","type":"quantitative","scale":{"domain":[-3.7,107.4],"nice":false,"zero":false},"axis":null},
 "text":{"field":"s"}}},
{"data":{"name":"subnum"},"mark":{"type":"text","align":"center","baseline":"middle","font":"Liberation Sans","fontSize":12,"color":"#1a7a1a"},
 "encoding":{"x":{"field":"t","type":"quantitative","scale":{"domain":[0,491],"nice":false,"zero":false},"axis":null},
 "y":{"field":"v","type":"quantitative","scale":{"domain":[-3.7,107.4],"nice":false,"zero":false},"axis":null},
 "text":{"field":"s"}}},
{"data":{"name":"subann"},"mark":{"type":"text","align":"left","baseline":"middle","font":"Liberation Sans","fontSize":11.3,"color":"#2633f5"},
 "encoding":{"x":{"field":"t","type":"quantitative","scale":{"domain":[0,491],"nice":false,"zero":false},"axis":null},
 "y":{"field":"v","type":"quantitative","scale":{"domain":[-3.7,107.4],"nice":false,"zero":false},"axis":null},
 "text":{"field":"s"}}},
{"data":{"name":"subtag"},"mark":{"type":"bar","orient":"horizontal","size":9,"color":"#c03030"},
 "encoding":{"x":{"datum":492,"type":"quantitative","scale":{"domain":[0,491],"nice":false,"zero":false},"axis":null},"x2":{"datum":509},
 "y":{"field":"v","type":"quantitative","scale":{"domain":[-3.7,107.4],"nice":false,"zero":false},"axis":null}}},
{"data":{"name":"subtag"},"mark":{"type":"text","align":"left","baseline":"middle","font":"Liberation Sans","fontSize":5.4,"color":"#ffffff"},
 "encoding":{"x":{"datum":493.5,"type":"quantitative","scale":{"domain":[0,491],"nice":false,"zero":false},"axis":null},
 "y":{"field":"v","type":"quantitative","scale":{"domain":[-3.7,107.4],"nice":false,"zero":false},"axis":null},
 "text":{"field":"s"}}}
]
}
]
}
